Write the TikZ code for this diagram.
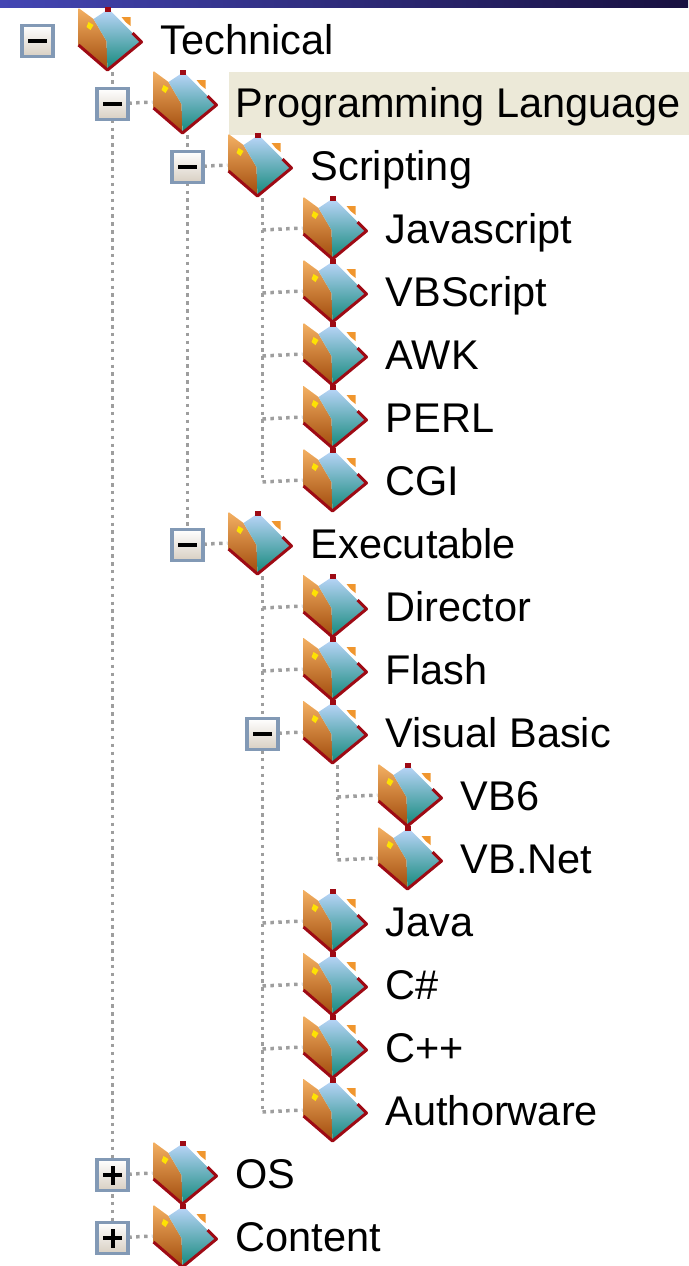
\documentclass[tikz,border=0pt]{standalone}
\usepackage{fontspec}
\setmainfont{Liberation Sans}
\usetikzlibrary{positioning,calc,backgrounds}

\definecolor{selbg}{HTML}{ECE9D8}
\definecolor{boxedge}{HTML}{8299B5}
\definecolor{boxbot}{HTML}{D8CFC2}
\definecolor{barleft}{HTML}{4446B4}
\definecolor{barright}{HTML}{181040}
\definecolor{icoorange}{HTML}{F0962E}
\definecolor{icobrown}{HTML}{A04A0C}
\definecolor{icolight}{HTML}{BCD6FA}
\definecolor{icomid}{HTML}{7488E4}
\definecolor{icoteal}{HTML}{12887A}
\definecolor{icored}{HTML}{9E0A14}

\tikzset{
  treeline/.style={draw=black!38, line width=3.5pt, dash pattern=on 3.5pt off 4.4pt},
  expbox/.style={rectangle, minimum size=31pt, inner sep=0pt, draw=boxedge, line width=3.5pt,
    top color=white, bottom color=boxbot},
  minusbox/.style={expbox, path picture={
    \fill[black] ($(path picture bounding box.center)+(-9.5,-2)$) rectangle ($(path picture bounding box.center)+(9.5,2)$);}},
  plusbox/.style={expbox, path picture={
    \fill[black] ($(path picture bounding box.center)+(-9.5,-2)$) rectangle ($(path picture bounding box.center)+(9.5,2)$);
    \fill[black] ($(path picture bounding box.center)+(-2,-9.5)$) rectangle ($(path picture bounding box.center)+(2,9.5)$);}},
  folder/.style={rectangle, minimum width=66pt, minimum height=66pt, inner sep=0pt, path picture={
    \begin{scope}[shift={(path picture bounding box.center)}]
      \shade[top color=icoorange!75!white, bottom color=icobrown]
        (-32,-31) -- (-17,-20) -- (-4,2) -- (-3,31) -- (-32,6) -- cycle;
      \fill[yellow!85!orange] (-22,-17) -- (-17,-14) -- (-20,-9) -- (-24,-12) -- cycle;
      \shade[top color=icolight, middle color=icomid, bottom color=icoteal]
        (-17,-20) -- (-2,-30) -- (31,3) -- (-3,31) -- (-4,2) -- cycle;
      \fill[icoorange] (11,-22) -- (20,-22) -- (20,-13) -- (15,-17) -- cycle;
      \draw[icored, line width=3pt, line join=round] (-32,6) -- (-3,31) -- (31,3) -- (22,-6);
      \fill[icored] (-6,-32) rectangle (0,-27);
    \end{scope}}},
  lbl/.style={font=\fontsize{41.5}{41.5}\selectfont, inner sep=0pt, anchor=base west}
}

\begin{document}
\begin{tikzpicture}[x=1pt, y=-1pt]
    \useasboundingbox (0,0) rectangle (688,1266);
    \shade[left color=barleft, right color=barright] (0,0) rectangle (688,7);

    % one row per entry: row / level / name / text
    \foreach \r/\l/\n/\t in {0/0/tech/Technical, 1/1/prog/Programming Language, 2/2/scr/Scripting,
        3/3/js/Javascript, 4/3/vbs/VBScript, 5/3/awk/AWK, 6/3/perl/PERL, 7/3/cgi/CGI,
        8/2/exe/Executable, 9/3/dir/Director, 10/3/flash/Flash, 11/3/vb/Visual Basic,
        12/4/vbsix/VB6, 13/4/vbnet/VB.Net, 14/3/java/Java, 15/3/csharp/C\#, 16/3/cpp/C++,
        17/3/auth/Authorware, 18/1/os/OS, 19/1/cont/Content}{
        \coordinate (b\n) at ({37.5+75*\l}, {41+63*\r});
        \node[folder] (i\n) at ($(b\n)+(73,-2)$) {};
        \node[lbl] (t\n) at ($(b\n)+(123,13)$) {\t};
        \ifnum\l>0
            \begin{scope}[on background layer]
                \draw[treeline] (b\n) -- (i\n.west);
            \end{scope}
        \fi
    }

    \begin{scope}[on background layer]
        \fill[selbg] ($(bprog)+(116,-32)$) rectangle ($(bprog)+(576,31)$);
        \draw[treeline] (itech.south -| bcont) -- (bcont);
        \draw[treeline] (iprog.south -| bexe) -- (bexe);
        \draw[treeline] (iscr.south -| bcgi) -- (bcgi);
        \draw[treeline] (iexe.south -| bauth) -- (bauth);
        \draw[treeline] (ivb.south -| bvbnet) -- (bvbnet);
    \end{scope}

    \foreach \n in {tech,prog,scr,exe,vb}{\node[minusbox] (m\n) at (b\n) {};}
    \foreach \n in {os,cont}{\node[plusbox] (p\n) at (b\n) {};}
\end{tikzpicture}
\end{document}
